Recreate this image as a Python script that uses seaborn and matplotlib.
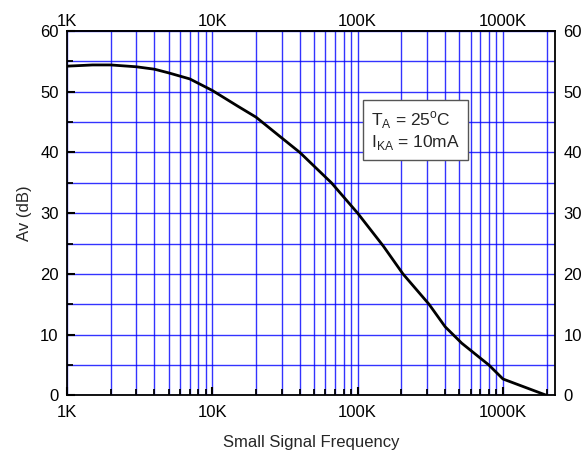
import pandas as pd
import matplotlib
matplotlib.use('Agg')
import matplotlib.pyplot as plt
import matplotlib.ticker as mticker
import seaborn as sns

# %%

freq = [1e3, 1.5e3, 2e3, 3e3, 4e3, 5e3, 7e3, 1e4, 1.5e4, 2e4, 3e4, 4e4,
        6.6e4, 1e5, 1.5e5, 2.05e5, 3.1e5, 4e5, 5.2e5, 8e5, 1e6, 2e6]
gain = [54.2, 54.4, 54.4, 54.1, 53.7, 53.1, 52.1, 50.2, 47.6, 45.8, 42.4, 40.0,
        35.0, 30.0, 24.6, 20.0, 15.0, 11.3, 8.6, 5.0, 2.7, 0.0]

x_ticks = [1e3, 1e4, 1e5, 1e6]
x_labels = ['1K', '10K', '100K', '1000K']
y_ticks = [0, 10, 20, 30, 40, 50, 60]

df = pd.DataFrame({'freq': freq, 'gain': gain})

# %%

sns.set_theme(style='white')
plt.rcParams['font.family'] = ['Liberation Sans', 'DejaVu Sans']
plt.rcParams['mathtext.fontset'] = 'custom'
plt.rcParams['mathtext.rm'] = 'Liberation Sans'

fig = plt.figure(figsize=(5.82, 4.55), dpi=100)
ax = fig.add_axes([0.1151, 0.131, 0.8385, 0.801])

ax.set_xscale('log')
ax.set_xlim(1e3, 2.28e6)
ax.set_ylim(0, 60)

ax.xaxis.set_major_locator(mticker.FixedLocator(x_ticks))
ax.xaxis.set_major_formatter(mticker.FixedFormatter(x_labels))
ax.xaxis.set_minor_locator(mticker.LogLocator(base=10, subs=range(2, 10), numticks=20))
ax.xaxis.set_minor_formatter(mticker.NullFormatter())
ax.yaxis.set_major_locator(mticker.FixedLocator(y_ticks))
ax.yaxis.set_minor_locator(mticker.MultipleLocator(5))

ax.grid(True, which='both', color='#0000ff', linewidth=1.0, alpha=0.8)
ax.set_axisbelow(True)

sns.lineplot(data=df, x='freq', y='gain', color='black', linewidth=2.0,
             estimator=None, ax=ax, zorder=3)

for s in ax.spines.values():
    s.set_color('black')
    s.set_linewidth(1.3)

ax.tick_params(which='both', direction='in', colors='black',
               top=False, right=False, left=True, bottom=True,
               labeltop=False, labelright=True, labelsize=12)
ax.xaxis.set_tick_params(which='major', pad=7)
ax.yaxis.set_tick_params(which='major', pad=6)
ax.tick_params(which='major', length=6, width=1.5)
ax.tick_params(which='minor', length=4, width=1.3)

# labels along the top frame
top = ax.secondary_xaxis('top')
top.xaxis.set_major_locator(mticker.FixedLocator(x_ticks))
top.xaxis.set_major_formatter(mticker.FixedFormatter(x_labels))
top.xaxis.set_minor_locator(mticker.NullLocator())
top.tick_params(length=0, pad=1.5, labelsize=12, colors='black')
top.spines['top'].set_linewidth(1.3)
top.spines['top'].set_color('black')

ax.set_xlabel('Small Signal Frequency', fontsize=12, labelpad=11)
ax.set_ylabel('Av (dB)', fontsize=12, labelpad=6)

ax.text(0.623, 0.786,
        'T$_{\\mathregular{A}}$ = 25$^{\\mathregular{o}}$C\nI$_{\\mathregular{KA}}$ = 10mA',
        transform=ax.transAxes, fontsize=12.5, va='top', ha='left',
        linespacing=1.2, zorder=5,
        bbox=dict(boxstyle='square,pad=0.45', facecolor='white',
                  edgecolor='#555555', linewidth=1.0))

plt.savefig('out.png', format='png', dpi=100)
